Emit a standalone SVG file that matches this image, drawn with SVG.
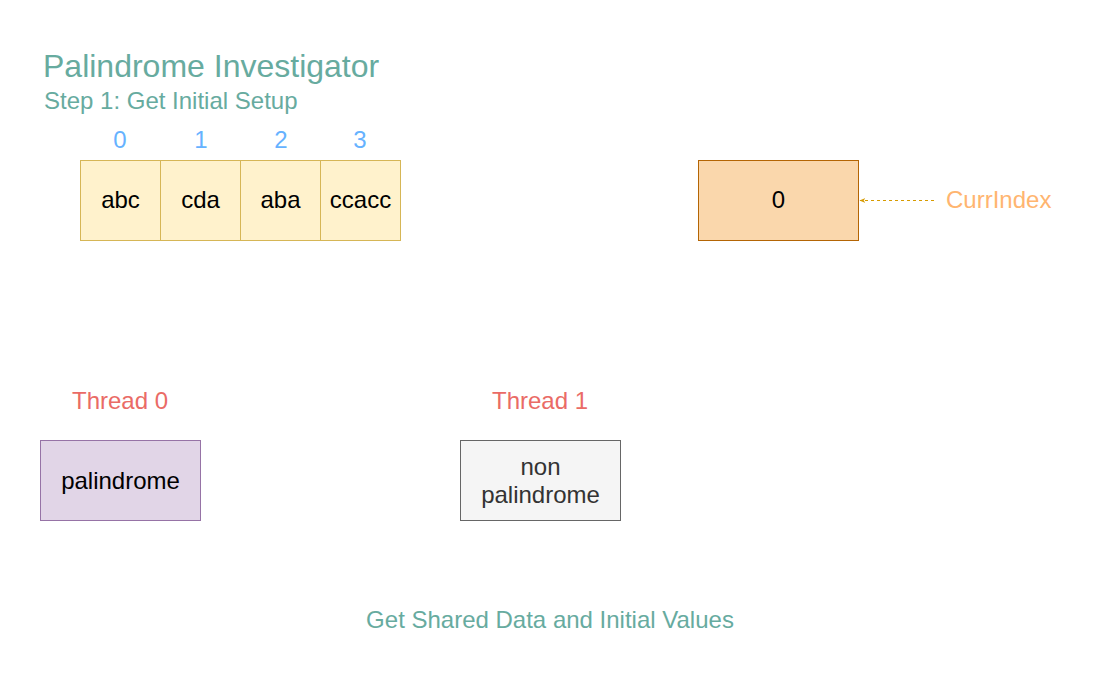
<svg xmlns="http://www.w3.org/2000/svg" width="1100" height="700" viewBox="0 0 1100 700">
<style>
text{font-family:"Liberation Sans",Arial,sans-serif;}
.cell{fill:#fff2cc;stroke:#d6b656;stroke-width:1;}
.ct{font-size:24px;fill:#000;text-anchor:middle;}
.idx{font-size:24px;fill:#66b2ff;text-anchor:middle;}
.thr{font-size:24px;fill:#ea6b66;text-anchor:middle;}
</style>
<defs>
<marker id="arr" viewBox="0 0 10 10" refX="9" refY="5" markerWidth="6" markerHeight="6" orient="auto-start-reverse">
<path d="M0,1 L10,5 L0,9 L3,5 Z" fill="#d79b00"/>
</marker>
</defs>
<rect width="1100" height="700" fill="#fff"/>
<g id="title">
<text x="43" y="77" font-size="32" fill="#67ab9f">Palindrome Investigator</text>
<text x="44" y="109" font-size="24" fill="#67ab9f">Step 1: Get Initial Setup</text>
</g>
<g id="indices">
<text class="idx" x="120" y="148">0</text>
<text class="idx" x="201" y="148">1</text>
<text class="idx" x="281" y="148">2</text>
<text class="idx" x="360" y="148">3</text>
</g>
<g id="cell0"><rect class="cell" x="80.5" y="160.5" width="80" height="80"/><text class="ct" x="120.5" y="208">abc</text></g>
<g id="cell1"><rect class="cell" x="160.5" y="160.5" width="80" height="80"/><text class="ct" x="200.5" y="208">cda</text></g>
<g id="cell2"><rect class="cell" x="240.5" y="160.5" width="80" height="80"/><text class="ct" x="280.5" y="208">aba</text></g>
<g id="cell3"><rect class="cell" x="320.5" y="160.5" width="80" height="80"/><text class="ct" x="360.5" y="208">ccacc</text></g>
<g id="curr"><rect x="698.5" y="160.5" width="160" height="80" fill="#fad7ac" stroke="#b46504"/><text class="ct" x="778.5" y="208">0</text></g>
<g id="currlabel"><text x="946" y="208" font-size="24" fill="#ffb570">CurrIndex</text></g>
<g id="connectors">
<line x1="934" y1="200.5" x2="860" y2="200.5" stroke="#d79b00" stroke-width="1" stroke-dasharray="3,3" marker-end="url(#arr)"/>
</g>
<g id="thread0label"><text class="thr" x="120" y="409">Thread 0</text></g>
<g id="thread1label"><text class="thr" x="540" y="409">Thread 1</text></g>
<g id="thread0"><rect x="40.5" y="440.5" width="160" height="80" fill="#e1d5e7" stroke="#9673a6"/><text class="ct" x="120.5" y="489">palindrome</text></g>
<g id="thread1"><rect x="460.5" y="440.5" width="160" height="80" fill="#f5f5f5" stroke="#666666"/><text class="ct" x="540.5" y="475" style="fill:#333">non</text><text class="ct" x="540.5" y="503" style="fill:#333">palindrome</text></g>
<g id="caption"><text x="550" y="628" font-size="24" fill="#67ab9f" text-anchor="middle">Get Shared Data and Initial Values</text></g>
</svg>
